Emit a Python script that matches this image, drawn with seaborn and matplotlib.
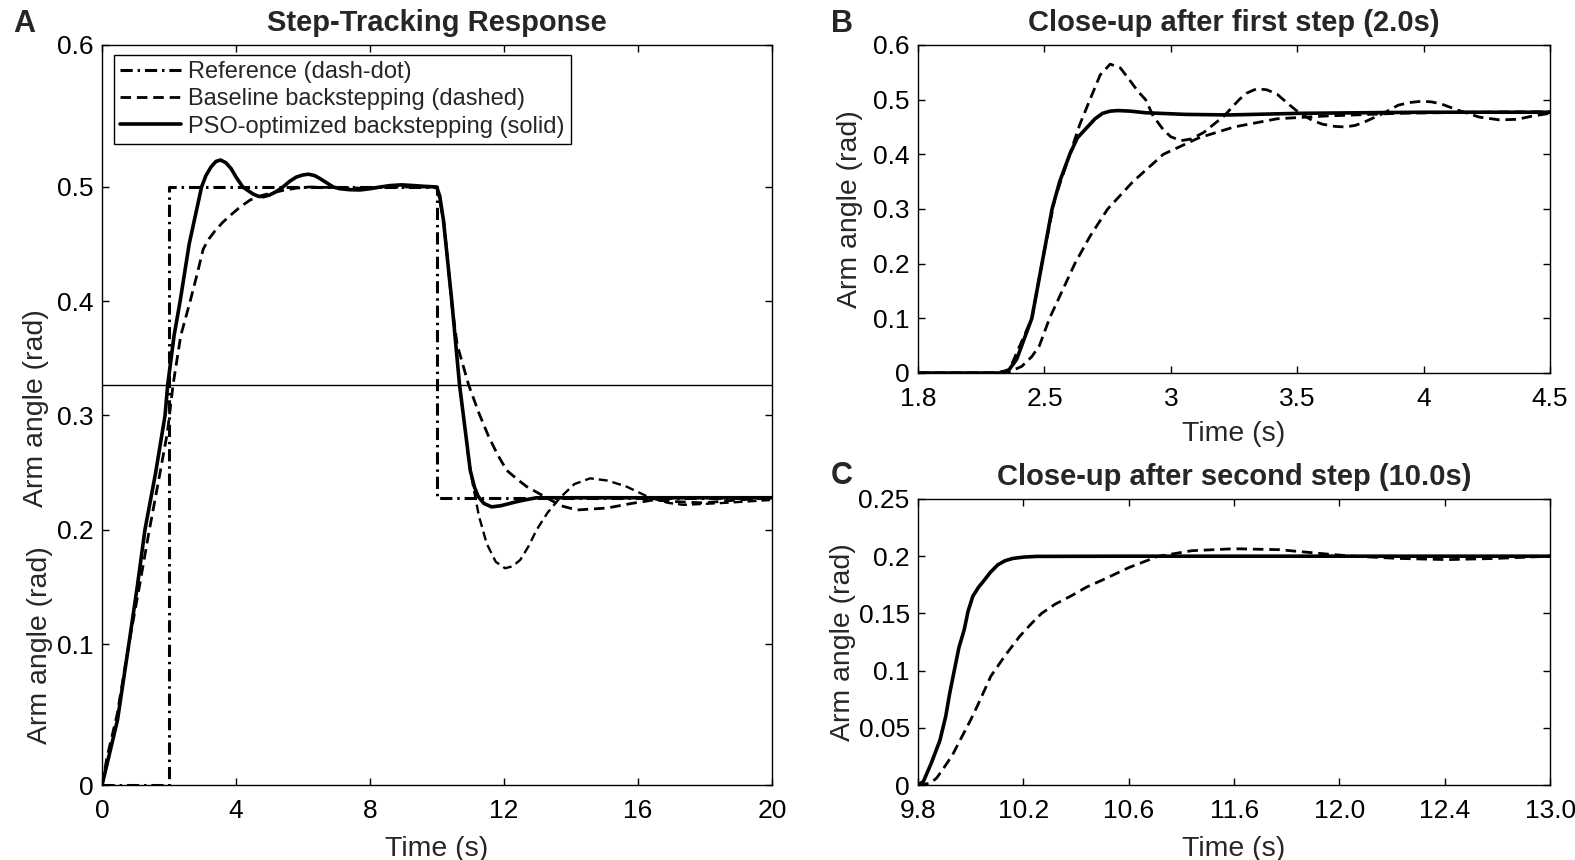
"""Step-tracking response of baseline vs PSO-optimised backstepping."""

import matplotlib

matplotlib.use("Agg")
import matplotlib.pyplot as plt
import numpy as np
import seaborn as sns

# ---- Panel A: full run -------------------------------------------------
ref_t = [0.0, 2.0, 2.0, 10.0, 10.0, 20.0]
ref_y = [0.0, 0.0, 0.5, 0.5, 0.228, 0.228]

base_t = [0.0, 0.15, 0.45, 0.8, 1.1, 1.4, 1.7, 1.95, 2.12, 2.35, 2.63, 2.84,
          3.02, 3.2, 3.37, 3.6, 3.82, 4.1, 4.42, 4.82, 5.1, 5.4, 5.8, 6.2, 7.7,
          9.0, 10.0, 10.2, 10.45, 10.6, 10.94, 11.25, 11.53, 11.8, 12.08, 12.4,
          12.68, 13.27, 13.7, 14.17, 15.07, 15.8, 16.45, 17.2, 17.95, 18.94,
          20.0]
base_y = [0.0, 0.02, 0.05, 0.1, 0.148, 0.198, 0.245, 0.285, 0.327, 0.37, 0.4,
          0.424, 0.4457, 0.455, 0.4615, 0.469, 0.4749, 0.482, 0.4886, 0.493,
          0.495, 0.497, 0.499, 0.5, 0.499, 0.5, 0.5, 0.47, 0.395, 0.362, 0.327,
          0.302, 0.2823, 0.266, 0.252, 0.244, 0.2377, 0.228, 0.221, 0.2173,
          0.219, 0.223, 0.226, 0.2245, 0.2235, 0.226, 0.228]

# second, strongly undershooting dashed trace after the 10 s step
under_t = [10.9, 11.06, 11.25, 11.48, 11.75, 12.03, 12.25, 12.48, 12.72, 12.97,
           13.3, 13.67, 14.1, 14.57, 15.1, 15.66, 16.36, 16.9, 17.35, 18.45,
           19.94]
under_y = [0.27, 0.2407, 0.212, 0.188, 0.172, 0.1663, 0.168, 0.1735, 0.185,
           0.1998, 0.215, 0.228, 0.24, 0.245, 0.243, 0.2377, 0.228, 0.2235,
           0.2218, 0.2233, 0.226]

pso_t = [0.0, 0.2, 0.46, 0.8, 1.05, 1.28, 1.6, 1.88, 1.96, 2.15, 2.33, 2.6,
         2.97, 3.1, 3.25, 3.4, 3.54, 3.7, 3.85, 4.0, 4.2, 4.5, 4.65, 4.82, 5.0,
         5.2, 5.4, 5.6, 5.8, 6.0, 6.16, 6.35, 6.5, 6.7, 6.9, 7.1, 7.4, 7.7, 8.0,
         8.3, 8.6, 8.94, 9.3, 9.6, 9.99, 10.08, 10.19, 10.44, 10.67, 10.85,
         10.99, 11.12, 11.23, 11.4, 11.63, 11.9, 12.3, 12.6, 12.97, 14.0, 16.0,
         20.0]
pso_y = [0.0, 0.02, 0.046, 0.1, 0.15, 0.2, 0.25, 0.3, 0.327, 0.37, 0.4, 0.45,
         0.5, 0.508, 0.514, 0.518, 0.519, 0.517, 0.513, 0.507, 0.5, 0.494,
         0.492, 0.4915, 0.493, 0.496, 0.5, 0.504, 0.507, 0.5085, 0.509, 0.508,
         0.506, 0.503, 0.5, 0.4985, 0.4976, 0.4974, 0.4985, 0.5, 0.501, 0.5015,
         0.501, 0.5005, 0.5, 0.492, 0.471, 0.4, 0.327, 0.285, 0.252, 0.237,
         0.229, 0.223, 0.22, 0.221, 0.224, 0.226, 0.228, 0.228, 0.228, 0.228]

marker_level = 0.327

a_xticks = [0, 4, 8, 12, 16, 20]
a_yticks = [0.0, 0.1, 0.2, 0.3, 0.4, 0.5, 0.6]
a_ylabels = ["0", "0.1", "0.2", "0.3", "0.4", "0.5", "0.6"]

# ---- Panel B: close-up after first step --------------------------------
b_pso_t = [2.0, 2.2, 2.33, 2.36, 2.39, 2.41, 2.43, 2.45, 2.49, 2.53, 2.56, 2.6,
           2.63, 2.67, 2.7, 2.73, 2.76, 2.79, 2.84, 2.9, 3.06, 3.23, 3.51, 4.0,
           4.5]
b_pso_y = [0.0, 0.0, 0.0, 0.006, 0.025, 0.05, 0.075, 0.1, 0.2, 0.3, 0.35, 0.4,
           0.43, 0.45, 0.465, 0.475, 0.479, 0.48, 0.479, 0.476, 0.473, 0.472,
           0.475, 0.477, 0.477]

b_base_t = [2.0, 2.3, 2.36, 2.41, 2.45, 2.48, 2.52, 2.57, 2.62, 2.68, 2.75,
            2.85, 2.97, 3.04, 3.11, 3.25, 3.42, 3.61, 3.9, 4.2, 4.5]
b_base_y = [0.0, 0.0, 0.002, 0.012, 0.03, 0.05, 0.1, 0.15, 0.2, 0.25, 0.3, 0.35,
            0.4, 0.415, 0.43, 0.45, 0.465, 0.47, 0.475, 0.477, 0.478]

b_osc_t = [2.0, 2.3, 2.36, 2.45, 2.49, 2.54, 2.6, 2.64, 2.68, 2.72, 2.76, 2.8,
           2.83, 2.87, 2.9, 2.93, 2.97, 3.0, 3.04, 3.08, 3.13, 3.17, 3.21, 3.27,
           3.3, 3.34, 3.38, 3.42, 3.47, 3.51, 3.56, 3.6, 3.65, 3.69, 3.73, 3.77,
           3.84, 3.9, 3.95, 3.99, 4.03, 4.07, 4.14, 4.22, 4.3, 4.37, 4.43, 4.5]
b_osc_y = [0.0, 0.0, 0.005, 0.1, 0.2, 0.317, 0.4, 0.455, 0.5, 0.545, 0.565,
           0.558, 0.54, 0.515, 0.5, 0.47, 0.445, 0.432, 0.425, 0.428, 0.44,
           0.455, 0.47, 0.5, 0.512, 0.52, 0.518, 0.51, 0.49, 0.475, 0.462,
           0.455, 0.451, 0.45, 0.453, 0.46, 0.475, 0.49, 0.495, 0.497, 0.496,
           0.492, 0.48, 0.468, 0.463, 0.464, 0.47, 0.475]

b_xticks = [2.0, 2.5, 3.0, 3.5, 4.0, 4.5]
b_xlabels = ["1.8", "2.5", "3", "3.5", "4", "4.5"]
b_yticks = [0.0, 0.1, 0.2, 0.3, 0.4, 0.5, 0.6]
b_ylabels = ["0", "0.1", "0.2", "0.3", "0.4", "0.5", "0.6"]

# ---- Panel C: close-up after second step -------------------------------
c_pso_t = [9.8, 9.82, 9.85, 9.883, 9.905, 9.92, 9.938, 9.955, 9.975, 9.99,
           10.008, 10.03, 10.048, 10.075, 10.103, 10.13, 10.159, 10.2, 10.25,
           10.6, 11.0, 11.6, 12.2]
c_pso_y = [0.0, 0.003, 0.019, 0.039, 0.06, 0.08, 0.1006, 0.12, 0.1356, 0.152,
           0.165, 0.173, 0.178, 0.186, 0.1925, 0.196, 0.198, 0.1992, 0.1998,
           0.2, 0.2, 0.2, 0.2]

c_base_t = [9.8, 9.846, 9.87, 9.892, 9.93, 9.966, 10.0, 10.03, 10.076, 10.13,
            10.186, 10.23, 10.269, 10.32, 10.379, 10.44, 10.508, 10.6, 10.71,
            10.84, 11.0, 11.17, 11.35, 11.45, 11.63, 11.81, 11.99, 12.2]
c_base_y = [0.0, 0.0015, 0.006, 0.013, 0.026, 0.042, 0.057, 0.0715, 0.095,
            0.113, 0.13, 0.141, 0.15, 0.158, 0.165, 0.173, 0.18, 0.19, 0.1998,
            0.2048, 0.2065, 0.2057, 0.2019, 0.2, 0.198, 0.197, 0.198, 0.2]

c_xticks = [9.8, 10.2, 10.6, 11.0, 11.4, 11.8, 12.2]
c_xlabels = ["9.8", "10.2", "10.6", "11.6", "12.0", "12.4", "13.0"]
c_yticks = [0.0, 0.05, 0.1, 0.15, 0.2, 0.25]
c_ylabels = ["0", "0.05", "0.1", "0.15", "0.2", "0.25"]

# panel A's y axis is stretched at both ends (0-0.1 and 0.5-0.6)
Y_KNOTS = np.array([-1.0, 0.0, 0.1, 0.5, 0.6, 1.6])
Y_SPAN = np.array([-1410.0, 0.0, 141.0, 598.0, 740.0, 2150.0])


def _stretch(v):
    return np.interp(v, Y_KNOTS, Y_SPAN)


def _unstretch(v):
    return np.interp(v, Y_SPAN, Y_KNOTS)


DASH_DOT = (0, (4.0, 1.6, 0.8, 1.6))
DASHED = (0, (3.8, 2.1))

TICK_SIZE = 19
LABEL_SIZE = 20.5
TITLE_SIZE = 21

LW_SOLID = 2.6
LW_DASH = 2.0
LW_REF = 2.2


def style_axes(ax):
    ax.tick_params(direction="in", length=5, width=1.0, top=True, right=True,
                   labelsize=TICK_SIZE, colors="black")
    ax.tick_params(axis="x", pad=10)
    ax.tick_params(axis="y", pad=6)
    for spine in ax.spines.values():
        spine.set_visible(True)
        spine.set_linewidth(1.0)
        spine.set_color("black")
    ax.grid(False)


def line(ax, t, y, style, lw, label=None):
    sns.lineplot(x=t, y=y, ax=ax, color="black", linestyle=style, linewidth=lw,
                 estimator=None, sort=False, label=label,
                 legend=label is not None)


def main():
    sns.set_theme(style="ticks")
    plt.rcParams["font.family"] = ["Liberation Sans", "DejaVu Sans"]

    fig = plt.figure(figsize=(15.75, 8.6), dpi=100)
    ax_a = fig.add_axes([0.0648, 0.0872, 0.4254, 0.8605])
    ax_b = fig.add_axes([0.5829, 0.5663, 0.4013, 0.3814])
    ax_c = fig.add_axes([0.5829, 0.0872, 0.4013, 0.3326])

    # ---- A
    ax_a.set_yscale("function", functions=(_stretch, _unstretch))
    line(ax_a, ref_t, ref_y, DASH_DOT, LW_REF, "Reference (dash-dot)")
    line(ax_a, base_t, base_y, DASHED, LW_DASH, "Baseline backstepping (dashed)")
    line(ax_a, under_t, under_y, DASHED, 1.7)
    line(ax_a, pso_t, pso_y, "-", LW_SOLID, "PSO-optimized backstepping (solid)")
    ax_a.axhline(marker_level, color="black", linewidth=1.0)
    ax_a.set_xlim(0, 20)
    ax_a.set_ylim(0, 0.6)
    ax_a.set_xticks(a_xticks)
    ax_a.set_xticklabels([str(v) for v in a_xticks])
    ax_a.set_yticks(a_yticks)
    ax_a.set_yticklabels(a_ylabels)
    ax_a.minorticks_off()
    style_axes(ax_a)
    ax_a.set_title("Step-Tracking Response", fontsize=TITLE_SIZE,
                   fontweight="bold", pad=10)
    ax_a.set_xlabel("Time (s)", fontsize=LABEL_SIZE)
    ax_a.xaxis.set_label_coords(0.5, -0.069)
    ax_a.set_ylabel("Arm angle (rad)", fontsize=LABEL_SIZE)
    ax_a.yaxis.set_label_coords(-0.079, 0.509)
    ax_a.text(-0.073, 0.189, "Arm angle (rad)", transform=ax_a.transAxes,
              rotation=90, ha="right", va="center", fontsize=LABEL_SIZE)
    leg = ax_a.legend(loc="upper left", bbox_to_anchor=(0.018, 0.986),
                      borderaxespad=0, fontsize=17, frameon=True,
                      fancybox=False, framealpha=1, edgecolor="black",
                      handlelength=2.6, handletextpad=0.3, labelspacing=0.22,
                      borderpad=0.25)
    leg.get_frame().set_linewidth(1.0)

    # ---- B
    line(ax_b, b_base_t, b_base_y, DASHED, LW_DASH)
    line(ax_b, b_osc_t, b_osc_y, DASHED, LW_DASH)
    line(ax_b, b_pso_t, b_pso_y, "-", LW_SOLID)
    ax_b.set_xlim(2.0, 4.5)
    ax_b.set_ylim(0, 0.6)
    ax_b.set_xticks(b_xticks)
    ax_b.set_xticklabels(b_xlabels)
    ax_b.set_yticks(b_yticks)
    ax_b.set_yticklabels(b_ylabels)
    style_axes(ax_b)
    ax_b.set_title("Close-up after first step (2.0s)", fontsize=TITLE_SIZE,
                   fontweight="bold", pad=10)
    ax_b.set_xlabel("Time (s)", fontsize=LABEL_SIZE)
    ax_b.xaxis.set_label_coords(0.5, -0.146)
    ax_b.set_ylabel("Arm angle (rad)", fontsize=LABEL_SIZE)
    ax_b.yaxis.set_label_coords(-0.087, 0.5)

    # ---- C
    line(ax_c, c_base_t, c_base_y, DASHED, LW_DASH)
    line(ax_c, c_pso_t, c_pso_y, "-", LW_SOLID)
    ax_c.set_xlim(9.8, 12.2)
    ax_c.set_ylim(0, 0.25)
    ax_c.set_xticks(c_xticks)
    ax_c.set_xticklabels(c_xlabels)
    ax_c.set_yticks(c_yticks)
    ax_c.set_yticklabels(c_ylabels)
    style_axes(ax_c)
    ax_c.set_title("Close-up after second step (10.0s)", fontsize=TITLE_SIZE,
                   fontweight="bold", pad=10)
    ax_c.set_xlabel("Time (s)", fontsize=LABEL_SIZE)
    ax_c.xaxis.set_label_coords(0.5, -0.178)
    ax_c.set_ylabel("Arm angle (rad)", fontsize=LABEL_SIZE)
    ax_c.yaxis.set_label_coords(-0.098, 0.5)

    # panel letters
    for letter, x, y in [("A", 24, 24), ("B", 842, 24), ("C", 842, 476)]:
        fig.text(x / 1575, 1 - y / 860, letter, fontsize=22, fontweight="bold",
                 ha="center", va="center")

    fig.savefig("out.png", dpi=100)
    plt.close(fig)


if __name__ == "__main__":
    main()
